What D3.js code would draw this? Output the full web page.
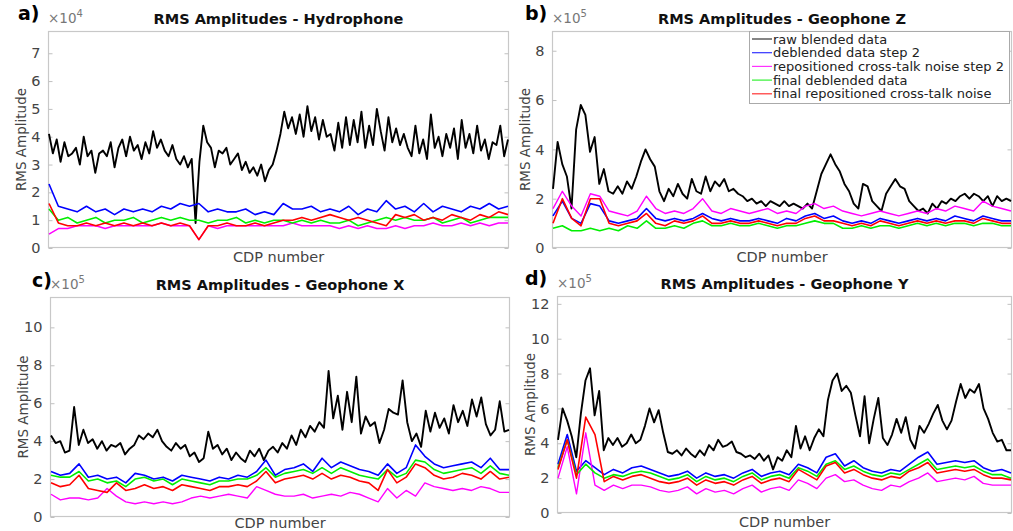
<!DOCTYPE html>
<html><head><meta charset="utf-8">
<script src="https://cdn.jsdelivr.net/npm/d3@7"></script>
<style>body{margin:0;background:#fff}svg{display:block}text{font-family:"DejaVu Sans",sans-serif}</style>
</head><body>
<svg id="chart" width="1013" height="531"></svg>
<script>
// ---------- DATA ----------
const seriesNames = ["raw blended data","deblended data step 2","repositioned cross-talk noise step 2","final deblended data","final repositioned cross-talk noise"];
const panelLabels = ["a)","b)","c)","d)"];
const panelTitles = ["RMS Amplitudes - Hydrophone","RMS Amplitudes - Geophone Z","RMS Amplitudes - Geophone X","RMS Amplitudes - Geophone Y"];
const exponents = [4,5,5,5];
const yTicksA = [0,1,2,3,4,5,6,7];
const yTicksB = [0,2,4,6,8];
const yTicksC = [0,2,4,6,8,10];
const yTicksD = [0,2,4,6,8,10,12];
const yMax = [7.8, 8.8, 11.6, 12.45];

// Panel a (x1e4)
const rawA = [4.1,3.4,3.9,3.1,3.8,3.3,3.4,3.6,3.0,4.0,3.3,3.5,2.7,3.4,3.5,3.3,3.8,2.9,3.6,3.9,3.3,4.0,3.5,3.7,3.2,3.8,3.4,4.2,3.6,3.9,3.5,3.3,3.7,3.2,3.0,3.3,2.9,3.2,
  0.9,3.1,4.4,3.8,3.6,2.9,3.5,3.4,3.6,3.0,3.2,3.4,2.8,3.1,2.7,2.9,2.6,3.0,2.4,2.8,3.0,3.5,4.1,4.9,4.3,4.7,4.1,4.8,4.0,5.1,4.2,4.7,
  3.9,4.6,4.0,4.1,3.5,4.5,3.6,4.7,3.7,4.6,3.8,4.9,3.6,4.4,3.7,5.0,4.2,3.5,4.7,3.8,4.3,3.7,4.1,3.6,3.3,4.4,3.4,3.9,3.2,4.8,
  3.6,4.0,3.3,4.1,3.6,4.3,3.2,4.6,3.6,4.1,3.4,4.4,3.5,3.9,3.2,3.8,3.7,4.4,3.3,3.9];
const blueA = [2.3,1.5,1.4,1.3,1.5,1.3,1.4,1.2,1.4,1.3,1.4,1.3,1.5,1.4,1.6,1.5,1.6,1.3,1.4,1.3,1.3,1.4,1.2,1.3,1.2,1.6,1.4,1.4,1.5,1.3,1.4,1.3,1.5,1.2,1.4,1.3,1.7,1.4,1.5,1.3,1.6,1.3,1.5,1.4,1.3,1.5,1.4,1.6,1.4,1.5];
const magentaA = [0.5,0.7,0.7,0.8,0.8,0.8,0.7,0.8,0.8,0.8,0.8,0.8,0.9,0.8,0.8,0.8,0.3,0.8,0.7,0.8,0.8,0.8,0.8,0.8,0.8,0.8,0.9,0.8,0.8,0.8,0.8,0.7,0.8,0.7,0.8,0.7,0.7,0.8,0.7,0.8,0.8,0.9,0.8,0.8,0.9,0.8,0.9,0.8,0.9,0.9];
const greenA = [1.4,1.0,1.1,0.9,1.0,1.1,0.9,1.0,1.0,1.1,0.9,1.0,1.1,1.0,1.1,1.0,1.0,0.9,1.0,1.0,1.1,0.9,1.0,0.9,1.0,1.0,0.9,1.0,0.9,1.0,0.9,0.9,1.0,0.8,0.9,1.0,1.1,1.0,1.1,1.0,1.0,1.1,0.9,1.0,1.1,0.9,1.0,1.1,1.1,1.1];
const redA = [1.6,0.9,0.8,0.8,0.9,0.8,0.9,0.8,0.9,0.8,0.9,0.8,0.9,0.8,0.9,0.8,0.3,0.8,0.8,0.9,0.8,0.8,0.9,0.8,0.9,1.0,1.0,1.1,1.0,1.1,1.2,1.1,1.0,1.1,1.0,0.9,0.8,1.2,1.1,1.2,1.0,1.1,1.0,1.2,1.1,1.0,1.2,1.1,1.3,1.2];

// Panel b (x1e5)
const rawB = [2.4,4.3,3.4,2.9,1.6,4.8,5.8,5.4,3.9,4.5,2.6,3.2,2.3,2.2,2.5,2.2,2.7,2.4,2.9,3.5,4.0,3.6,3.3,2.3,1.9,2.4,2.1,2.6,2.2,2.0,
  2.8,2.3,2.2,2.9,2.3,2.7,2.5,2.8,2.3,2.4,2.2,2.1,1.9,2.0,1.8,1.9,1.7,1.9,1.8,1.7,1.9,1.7,1.8,1.7,1.6,1.8,1.6,2.3,3.0,3.4,
  3.8,3.4,3.1,2.6,2.3,1.8,1.6,2.6,2.5,1.9,1.7,1.5,2.2,2.5,2.8,2.5,2.4,1.9,1.7,1.5,1.6,1.4,1.8,1.6,1.9,1.8,2.0,1.9,2.1,2.2,
  2.0,2.2,2.1,1.9,2.1,1.7,2.1,1.9,2.0,1.9];
const blueB = [1.3,1.9,1.2,1.0,1.8,1.7,1.1,1.0,1.1,1.2,1.6,1.2,1.1,1.2,1.1,1.2,1.4,1.2,1.1,1.2,1.1,1.1,1.2,1.1,1.0,1.2,1.1,1.3,1.4,1.2,1.3,1.1,1.0,1.1,1.0,1.2,1.1,1.0,1.1,1.2,1.1,1.2,1.1,1.3,1.2,1.1,1.3,1.2,1.1,1.1];
const magentaB = [1.6,2.3,1.7,1.3,2.2,2.1,1.5,1.4,1.3,1.5,2.1,1.6,1.4,1.5,1.4,1.6,2.0,1.5,1.4,1.6,1.5,1.4,1.5,1.6,1.4,1.5,1.4,1.7,1.8,1.6,1.7,1.5,1.4,1.3,1.4,1.5,1.4,1.3,1.4,1.5,1.4,1.6,1.5,1.7,1.6,1.5,1.9,1.7,1.6,1.5];
const greenB = [0.8,0.9,0.7,0.7,0.8,0.7,0.8,0.7,0.9,0.8,1.1,0.8,0.8,0.9,0.8,1.0,1.1,0.9,0.9,1.0,0.9,0.9,1.0,0.9,0.8,0.9,0.9,1.0,1.1,1.0,1.0,0.8,0.8,0.9,0.8,0.9,0.9,0.8,0.9,1.0,0.9,1.0,0.9,1.0,1.0,0.9,1.0,1.0,0.9,0.9];
const redB = [1.0,2.0,1.2,0.9,2.0,2.0,1.0,0.9,1.0,1.1,1.4,1.0,0.9,1.1,1.0,1.1,1.3,1.0,1.0,1.1,1.0,1.0,1.1,1.0,0.9,1.0,1.0,1.2,1.3,1.1,1.1,1.0,0.9,1.0,0.9,1.1,1.0,0.9,1.0,1.1,1.0,1.1,1.0,1.1,1.1,1.0,1.2,1.1,1.0,1.0];

// Panel c (x1e5)
const rawC = [4.3,3.9,4.0,3.4,3.5,5.8,3.8,4.6,3.9,4.1,3.6,4.0,3.5,3.8,3.7,3.9,3.3,3.6,3.8,4.3,4.1,4.4,4.2,4.6,4.0,3.7,3.5,3.9,3.6,3.8,
  3.2,3.4,2.9,3.1,4.5,3.6,3.8,3.3,3.6,3.0,3.4,3.1,2.9,3.5,3.2,3.6,3.0,3.5,3.7,3.4,3.9,3.6,4.3,3.8,4.6,4.2,4.8,4.5,5.0,4.7,
  7.7,5.2,6.4,4.6,6.6,5.0,7.4,4.4,5.3,4.8,5.0,3.9,4.6,5.7,5.5,5.4,7.2,5.0,4.0,4.4,3.7,5.6,4.5,5.5,4.7,5.2,4.4,5.9,5.0,5.6,
  4.8,6.2,5.3,6.3,4.9,4.3,4.6,6.1,4.5,4.6];
const blueC = [2.4,2.2,2.3,2.8,2.1,2.2,2.0,2.1,1.8,2.3,2.2,2.0,2.1,1.9,2.2,2.1,2.0,1.9,2.1,2.0,2.2,2.1,2.4,3.0,2.2,2.5,2.6,2.8,2.4,3.1,2.6,2.9,2.7,2.5,2.4,2.2,2.8,2.3,2.6,3.8,3.2,2.8,2.6,2.7,2.8,2.9,2.6,3.1,2.5,2.5];
const magentaC = [1.2,0.9,1.0,1.0,0.9,1.0,1.5,1.1,0.8,0.7,0.8,0.7,0.8,0.7,0.8,1.0,1.1,1.0,1.1,1.2,1.1,1.0,1.6,1.4,1.2,1.1,1.1,1.2,1.0,1.1,1.2,1.1,1.3,1.2,1.0,0.8,1.5,1.0,1.4,1.1,1.8,1.6,1.5,1.4,1.5,1.4,1.6,1.5,1.3,1.3];
const greenC = [2.2,2.1,2.1,2.4,1.9,2.0,1.8,1.9,1.6,2.0,2.1,1.9,2.0,1.7,2.0,1.9,1.8,1.7,1.9,1.9,2.0,2.0,2.2,2.6,2.1,2.3,2.4,2.5,2.3,2.6,2.3,2.6,2.4,2.2,2.1,2.0,2.5,2.1,2.3,3.0,2.9,2.5,2.3,2.4,2.5,2.6,2.3,2.7,2.3,2.2];
const redC = [1.8,1.6,1.7,2.2,1.5,1.4,1.3,1.8,1.4,1.5,1.7,1.5,1.6,1.4,1.7,1.6,1.5,1.4,1.6,1.6,1.7,1.6,1.9,2.4,1.8,2.0,2.1,2.2,2.0,2.3,2.0,2.2,2.1,1.9,1.8,1.4,2.5,1.8,2.1,2.8,2.6,2.2,2.0,2.1,2.3,2.2,2.0,2.4,2.0,2.1];

// Panel d (x1e5)
const rawD = [4.2,6.0,5.3,4.4,3.2,5.7,7.6,8.3,5.6,7.0,3.6,4.3,3.9,4.3,3.8,4.0,4.5,4.0,4.2,5.0,6.0,5.2,5.9,4.6,3.5,3.4,3.6,3.3,3.7,3.4,
  3.2,3.6,3.3,3.9,3.6,4.2,3.8,3.9,4.1,3.5,3.4,3.2,3.3,3.1,3.4,3.0,3.3,2.5,3.2,3.0,3.6,3.2,5.0,3.7,4.4,3.6,4.3,4.8,4.4,6.5,
  7.6,8.0,7.0,7.3,6.9,5.6,4.4,6.7,4.0,5.4,6.6,4.3,3.9,4.5,5.4,4.6,5.5,4.2,3.7,5.0,4.6,5.1,5.7,6.2,5.3,4.8,5.3,6.4,7.4,6.6,
  7.1,6.9,7.4,6.0,5.4,4.6,4.1,4.2,3.6,3.6];
const blueD = [2.8,4.5,2.4,3.0,2.6,2.2,2.5,2.3,2.6,2.7,2.5,2.3,2.1,2.2,2.4,2.0,2.3,2.1,2.2,2.0,2.3,2.5,2.1,2.3,2.4,2.2,2.8,2.6,2.3,3.2,3.4,2.7,3.0,2.6,2.4,2.3,2.5,2.4,2.8,3.2,3.5,2.8,2.9,3.0,2.9,3.0,2.6,2.4,2.5,2.3];
const magentaD = [2.0,3.8,1.1,4.6,1.6,1.3,1.6,1.4,1.6,1.6,1.5,1.3,1.2,1.3,1.5,1.1,1.4,1.2,1.3,1.1,1.4,1.6,1.2,1.4,1.5,1.3,1.9,1.7,1.4,2.0,2.2,1.8,1.9,1.6,1.4,1.3,1.6,1.5,1.8,2.0,2.3,1.8,1.9,2.0,1.9,2.1,1.7,1.6,1.6,1.6];
const greenD = [2.6,4.2,2.2,2.8,2.3,2.0,2.2,2.1,2.3,2.4,2.3,2.1,1.9,2.0,2.2,1.8,2.1,1.9,2.0,1.8,2.1,2.3,1.9,2.1,2.2,2.0,2.6,2.4,2.1,2.8,3.0,2.5,2.7,2.4,2.2,2.1,2.3,2.2,2.5,2.8,3.1,2.5,2.6,2.7,2.6,2.7,2.4,2.2,2.2,2.0];
const redD = [2.5,4.2,2.0,5.5,4.5,1.8,2.1,1.9,2.1,2.2,2.0,1.8,1.7,1.8,2.0,1.6,1.9,1.7,1.8,1.6,1.9,2.1,1.7,1.9,2.0,1.8,2.5,2.2,1.9,2.7,2.9,2.3,2.5,2.2,2.0,1.9,2.1,2.0,2.4,2.6,2.9,2.3,2.4,2.5,2.4,2.5,2.2,2.0,2.0,1.9];

// ---------- LAYOUT ----------
const colors = ["#000000","#0000ff","#ff00ff","#00ee00","#ff0000"];
const widths = [1.9,1.6,1.4,1.6,1.6];
const panels = [
  {box:[48,31,509,248], lab:[18,20], xl:14, ticks:yTicksA, series:[rawA,blueA,magentaA,greenA,redA]},
  {box:[552,31,1012,248], lab:[525,20], xl:14, ticks:yTicksB, series:[rawB,blueB,magentaB,greenB,redB], legend:true},
  {box:[50,297,510,517], lab:[32,287], xl:11, ticks:yTicksC, series:[rawC,blueC,magentaC,greenC,redC]},
  {box:[557,296,1012,513], lab:[525,285], xl:14, ticks:yTicksD, series:[rawD,blueD,magentaD,greenD,redD]}
];

const svg = d3.select("#chart");
panels.forEach((p,k)=>{
  const [L,T,R,B] = p.box;
  const g = svg.append("g");
  const y = d3.scaleLinear().domain([0,yMax[k]]).range([B,T]);
  const clipId = "clip"+k;
  svg.append("clipPath").attr("id",clipId).append("rect").attr("x",L).attr("y",T).attr("width",R-L).attr("height",B-T);

  g.append("rect").attr("x",L+0.5).attr("y",T+0.5).attr("width",R-L-1).attr("height",B-T-1)
    .attr("fill","none").attr("stroke","#c8c8c8").attr("stroke-width",1.2);

  const ax = d3.axisLeft(y).tickValues(p.ticks).tickSize(-4).tickPadding(8).tickFormat(d3.format("d"));
  const ga = g.append("g").attr("transform",`translate(${L+0.5},0)`).call(ax);
  ga.select(".domain").remove();
  ga.selectAll("line").attr("stroke","#c0c0c0");
  ga.selectAll("text").attr("font-size",14.5).attr("fill","#444").attr("font-family","DejaVu Sans");
  const ar = d3.axisRight(y).tickValues(p.ticks).tickSize(-4).tickFormat("");
  const gr = g.append("g").attr("transform",`translate(${R-0.5},0)`).call(ar);
  gr.select(".domain").remove();
  gr.selectAll("line").attr("stroke","#c0c0c0");

  const lg = g.append("g").attr("clip-path",`url(#${clipId})`);
  p.series.forEach((arr,s)=>{
    const x = d3.scaleLinear().domain([0,arr.length-1]).range([L+1,R-1]);
    const line = d3.line().x((d,i)=>x(i)).y(d=>y(d));
    lg.append("path").datum(arr).attr("d",line).attr("fill","none")
      .attr("stroke",colors[s]).attr("stroke-width",widths[s]).attr("stroke-linejoin","round");
  });

  const ex = g.append("text").attr("x",L).attr("y",T-8).attr("font-size",13.5).attr("fill","#777");
  ex.append("tspan").text("×10");
  ex.append("tspan").attr("dy",-6).attr("font-size",10).text(exponents[k]);

  g.append("text").attr("x",(L+R)/2).attr("y",T-7).attr("text-anchor","middle")
    .attr("font-size",14.5).attr("font-weight","bold").attr("fill","#111").text(panelTitles[k]);
  g.append("text").attr("x",p.lab[0]).attr("y",p.lab[1]).attr("font-size",19).attr("font-weight","bold")
    .attr("fill","#000").text(panelLabels[k]);
  g.append("text").attr("transform",`translate(${L-22},${(T+B)/2}) rotate(-90)`).attr("text-anchor","middle")
    .attr("font-size",13.5).attr("fill","#444").text("RMS Amplitude");
  g.append("text").attr("x",(L+R)/2).attr("y",B+p.xl).attr("text-anchor","middle")
    .attr("font-size",14.5).attr("fill","#444").text("CDP number");

  if(p.legend){
    const lx=749, ly=31, lw=260, lh=72;
    const lgd = g.append("g");
    lgd.append("rect").attr("x",lx+0.5).attr("y",ly+0.5).attr("width",lw).attr("height",lh)
      .attr("fill","#fff").attr("stroke","#aaa").attr("stroke-width",1);
    seriesNames.forEach((n,i)=>{
      const cy = ly+8+i*13.7;
      lgd.append("line").attr("x1",lx+3).attr("x2",lx+23).attr("y1",cy).attr("y2",cy)
        .attr("stroke",colors[i]).attr("stroke-width",1.2).attr("opacity",0.8);
      lgd.append("text").attr("x",lx+24).attr("y",cy+4.5).attr("font-size",13).attr("fill","#222").text(n);
    });
  }
});
</script>
</body></html>
